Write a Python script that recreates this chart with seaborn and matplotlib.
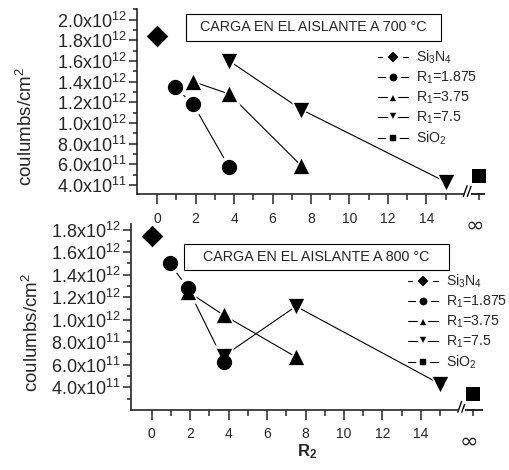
import numpy as np
import pandas as pd
import matplotlib
matplotlib.use("Agg")
import matplotlib.pyplot as plt
import seaborn as sns
from matplotlib.lines import Line2D
from matplotlib.patches import Rectangle

# ---------------- data ----------------
INF_POS = 16.72  # axis position used for R2 = infinity

series_names = ["Si$_3$N$_4$", "R$_1$=1.875", "R$_1$=3.75", "R$_1$=7.5", "SiO$_2$"]
series_markers = ["D", "o", "^", "v", "s"]

r2_si3n4 = [0.0]
r2_r1_1875 = [0.9375, 1.875, 3.75]
r2_r1_375 = [1.875, 3.75, 7.5]
r2_r1_75 = [3.75, 7.5, 15.0]
r2_sio2 = [INF_POS]

q700_si3n4 = [1.84e12]
q700_r1_1875 = [1.345e12, 1.18e12, 5.7e11]
q700_r1_375 = [1.40e12, 1.28e12, 5.85e11]
q700_r1_75 = [1.60e12, 1.13e12, 4.3e11]
q700_sio2 = [4.9e11]

q800_si3n4 = [1.74e12]
q800_r1_1875 = [1.50e12, 1.28e12, 6.3e11]
q800_r1_375 = [1.25e12, 1.04e12, 6.7e11]
q800_r1_75 = [6.8e11, 1.12e12, 4.3e11]
q800_sio2 = [3.4e11]

x_major_ticks = [0, 2, 4, 6, 8, 10, 12, 14]
x_minor_ticks = [1, 3, 5, 7, 9, 11, 13, 15, INF_POS]
y700_ticks = [4e11, 6e11, 8e11, 1.0e12, 1.2e12, 1.4e12, 1.6e12, 1.8e12, 2.0e12]
y800_ticks = [4e11, 6e11, 8e11, 1.0e12, 1.2e12, 1.4e12, 1.6e12, 1.8e12]
panel_titles = ["CARGA EN EL AISLANTE A 700 °C", "CARGA EN EL AISLANTE A 800 °C"]
y_label = "coulumbs/cm$^2$"
x_label = r"$\mathbf{R_2}$"
inf_label = "∞"

# ---------------- table ----------------
r2_lists = [r2_si3n4, r2_r1_1875, r2_r1_375, r2_r1_75, r2_sio2]
q_lists = {
    "700": [q700_si3n4, q700_r1_1875, q700_r1_375, q700_r1_75, q700_sio2],
    "800": [q800_si3n4, q800_r1_1875, q800_r1_375, q800_r1_75, q800_sio2],
}
rows = []
for panel, qs in q_lists.items():
    for name, xs, ys in zip(series_names, r2_lists, qs):
        for x, y in zip(xs, ys):
            rows.append({"panel": panel, "series": name, "R2": x, "Q": y})
df = pd.DataFrame(rows)

# ---------------- style ----------------
sns.set_style("ticks")
plt.rcParams["font.family"] = ["Liberation Sans", "DejaVu Sans"]
plt.rcParams["mathtext.fontset"] = "custom"
plt.rcParams["mathtext.rm"] = "Liberation Sans"
plt.rcParams["mathtext.it"] = "Liberation Sans:italic"
plt.rcParams["mathtext.bf"] = "Liberation Sans:bold"
plt.rcParams["axes.linewidth"] = 1.2

marker_size = {"D": 11, "o": 11, "^": 11, "v": 11, "s": 10}
HALO = 5.0

fig = plt.figure(figsize=(5.1, 4.7), dpi=100)
ax_top = fig.add_axes([0.2686, 0.5866, 0.6824, 0.3936])
ax_bot = fig.add_axes([0.2563, 0.1277, 0.6914, 0.3957])
for a in (ax_top, ax_bot):
    a.patch.set_visible(False)

panels = [
    (ax_top, "700", (-1.05, 17.05), (3.1e11, 2.1e12), y700_ticks),
    (ax_bot, "800", (-1.1, 17.25), (2.0e11, 1.85e12), y800_ticks),
]


def sci_label(v):
    e = int(np.floor(np.log10(v) + 1e-9))
    m = v / 10 ** e
    return f"{m:.1f}x10$^{{{e}}}$"


for ax, panel, xlim, ylim, yticks in panels:
    sub = df[df["panel"] == panel]
    for name, mk in zip(series_names, series_markers):
        s = sub[sub["series"] == name]
        if len(s) > 1:
            sns.lineplot(data=s, x="R2", y="Q", color="black", lw=0.8, sort=False,
                         estimator=None, ax=ax, legend=False, zorder=2)
    for name, mk in zip(series_names, series_markers):
        s = sub[sub["series"] == name]
        sns.scatterplot(data=s, x="R2", y="Q", marker=mk, s=(marker_size[mk] + HALO) ** 2,
                        color="white", linewidth=0, ax=ax, legend=False, zorder=3)
    for name, mk in zip(series_names, series_markers):
        s = sub[sub["series"] == name]
        sns.scatterplot(data=s, x="R2", y="Q", marker=mk, s=marker_size[mk] ** 2,
                        color="black", linewidth=0, ax=ax, legend=False, zorder=4,
                        clip_on=False)

    ax.set_xlim(*xlim)
    ax.set_ylim(*ylim)
    ax.set_xlabel("")
    ax.set_ylabel("")
    ax.set_xticks(x_major_ticks)
    ax.set_xticklabels([str(t) for t in x_major_ticks])
    ax.set_xticks(x_minor_ticks, minor=True)
    ax.set_yticks(yticks, [sci_label(v) for v in yticks])
    ax.set_yticks(np.arange(yticks[0] - 1e11, ylim[1] + 1, 1e11), minor=True)
    ax.set_ylim(*ylim)

    ax.tick_params(axis="y", which="major", length=5.5, width=1.1, labelsize=13, pad=2)
    ax.tick_params(axis="y", which="minor", length=3, width=1.1)
    ax.tick_params(axis="x", which="major", length=7.5, width=1.1, labelsize=10, pad=5)
    ax.tick_params(axis="x", which="minor", length=4, width=1.1)

    sns.despine(ax=ax)
    ax.spines["bottom"].set_bounds(xlim[0], 15.95)
    tr = ax.get_xaxis_transform()
    ax.plot([16.32, xlim[1]], [0, 0], transform=tr, color="black", lw=1.2,
            clip_on=False, solid_capstyle="butt")
    for x0 in (15.92, 16.13):
        ax.plot([x0, x0 + 0.2], [-0.012, 0.046], transform=tr, color="black",
                lw=1.0, clip_on=False)
    ax.text(INF_POS - 0.2, -0.17, inf_label, transform=tr, ha="center", va="center",
            fontsize=16, family=["DejaVu Sans"], zorder=10)

# title boxes (figure pixel coordinates converted to fractions)
W, H = 510.0, 470.0
for (x0, y0, x1, y1), title in zip([(186, 14, 440.7, 40.7), (184, 244, 449, 270)], panel_titles):
    fig.patches.append(Rectangle((x0 / W, 1 - y1 / H), (x1 - x0) / W, (y1 - y0) / H,
                                 transform=fig.transFigure, fill=False, lw=0.8,
                                 edgecolor="black"))
    fig.text((x0 + x1) / 2 / W, 1 - (y0 + y1) / 2 / H, title, ha="center", va="center",
             fontsize=10.3)

# legends
handles = [Line2D([], [], color="black", lw=0.8, marker=mk, ms=marker_size[mk],
                  mfc="black", mec="white", mew=2.6)
           for mk in series_markers]
for ax, anchor in [(ax_top, (378 / W, 1 - 49 / H)), (ax_bot, (408 / W, 1 - 273 / H))]:
    ax.legend(handles, series_names, loc="upper left", bbox_to_anchor=anchor,
              bbox_transform=fig.transFigure, frameon=False, fontsize=10.2,
              handlelength=2.1, handletextpad=0.6, labelspacing=0.25, borderpad=0,
              borderaxespad=0, markerscale=0.75)

# axis labels
fig.text(26 / W, 1 - 126 / H, y_label, rotation=90, ha="center", va="center", fontsize=13.5)
fig.text(32 / W, 1 - 332 / H, y_label, rotation=90, ha="center", va="center", fontsize=13.5)
fig.text(307 / W, 1 - 442 / H, x_label, ha="center", va="top", fontsize=12)

fig.savefig("out.png", dpi=100)
